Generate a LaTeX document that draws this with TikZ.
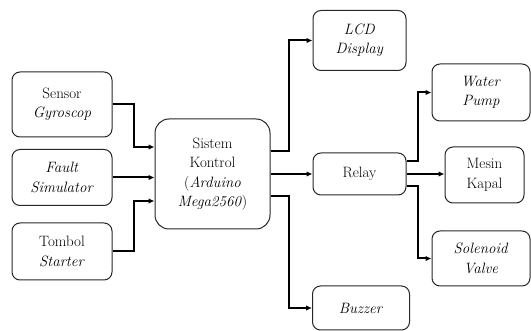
\documentclass[tikz,border=0pt]{standalone}
\usetikzlibrary{arrows.meta,calc}
\tikzset{
  blk/.style={draw=black!85, line width=1pt, rounded corners=8pt, inner sep=0pt, align=center,
    font=\fontsize{15}{19.5}\selectfont},
  arr/.style={line width=2pt, -{Latex[length=6pt,width=5.5pt]}}
}
\begin{document}
\begin{tikzpicture}[x=1pt,y=-1pt]
\useasboundingbox (0,0) rectangle (531,331);
\node[blk, minimum width=100pt, minimum height=65pt] (sensor) at (62,104.5) {Sensor\\\textit{Gyroscop}};
\node[blk, minimum width=100pt, minimum height=56pt] (fault) at (62,177.5) {\textit{Fault}\\\textit{Simulator}};
\node[blk, minimum width=100pt, minimum height=57pt] (tombol) at (62,251.5) {Tombol\\\textit{Starter}};
\node[blk, minimum width=115pt, minimum height=110pt, rounded corners=14pt] (sistem) at (212.5,174) {Sistem\\Kontrol\\(\textit{Arduino}\\\textit{Mega2560})};
\node[blk, minimum width=93pt, minimum height=60pt] (lcd) at (359.5,40.5) {\textit{LCD}\\\textit{Display}};
\node[blk, minimum width=93pt, minimum height=42pt] (relay) at (359.5,174) {Relay};
\node[blk, minimum width=97pt, minimum height=44pt] (buzzer) at (361,308) {\textit{Buzzer}};
\node[blk, minimum width=98pt, minimum height=57pt] (pump) at (481,92.5) {\textit{Water}\\\textit{Pump}};
\node[blk, minimum width=79pt, minimum height=56pt] (mesin) at (484.5,175) {Mesin\\Kapal};
\node[blk, minimum width=98pt, minimum height=55pt] (sol) at (481,258.5) {\textit{Solenoid}\\\textit{Valve}};
\draw[arr] (sensor.east) -- ++(21pt,0) |- ([yshift=27pt]sistem.west);
\draw[arr] (fault.east) -- (sistem.west |- fault.east);
\draw[arr] (tombol.east) -- ++(21pt,0) |- ([yshift=-27pt]sistem.west);
\draw[arr] ([yshift=23pt]sistem.east) -- ++(18pt,0) |- (lcd.west);
\draw[arr] (sistem.east) -- (relay.west);
\draw[arr] ([yshift=-22pt]sistem.east) -- ++(18pt,0) |- (buzzer.west);
\draw[arr] ([yshift=13pt]relay.east) -- ++(11pt,0) |- (pump.west);
\draw[arr] (relay.east) -- (mesin.west |- relay.east);
\draw[arr] ([yshift=-12pt]relay.east) -- ++(11pt,0) |- (sol.west);
\end{tikzpicture}
\end{document}
